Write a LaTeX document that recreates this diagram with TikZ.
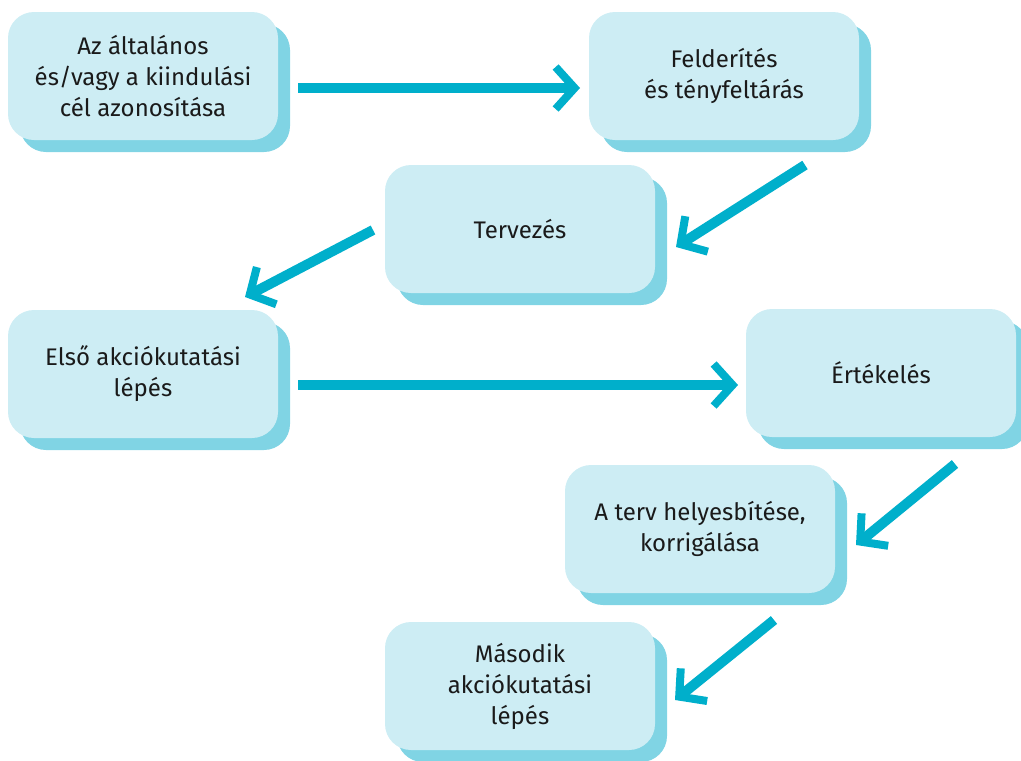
\documentclass[tikz,border=0pt]{standalone}
\usepackage{fontspec}
\setmainfont{Fira Sans}
\usetikzlibrary{arrows.meta,shadows}
\definecolor{boxfill}{HTML}{CDEDF4}
\definecolor{boxshade}{HTML}{80D4E4}
\definecolor{flow}{HTML}{00AFCB}
\definecolor{ink}{HTML}{1A1A1A}
\tikzset{
  stepbox/.style={fill=boxfill, rounded corners=26pt, minimum width=270pt,
    minimum height=128pt, inner sep=0pt, align=center, text=ink,
    font=\fontsize{24pt}{31pt}\selectfont,
    drop shadow={shadow xshift=12pt, shadow yshift=-12pt, fill=boxshade, opacity=1}},
  flowarrow/.style={draw=flow, line width=10pt,
    -{Straight Barb[length=19pt, width=42pt, line width=8pt]}}
}
\begin{document}
\begin{tikzpicture}[x=1pt, y=-1pt]
\useasboundingbox (0,0) rectangle (1021,761);
\node[stepbox] (goal)   at (143,76)  {Az általános\\és/vagy a kiindulási\\cél azonosítása};
\node[stepbox] (survey) at (724,76)  {Felderítés\\és tényfeltárás};
\node[stepbox] (plan)   at (520,229) {Tervezés};
\node[stepbox] (first)  at (143,374) {Első akciókutatási\\lépés};
\node[stepbox] (eval)   at (881,373) {Értékelés};
\node[stepbox] (fix)    at (700,529) {A terv helyesbítése,\\korrigálása};
\node[stepbox] (second) at (520,686) {Második\\akciókutatási\\lépés};

\coordinate (a1s) at (298,88);  \coordinate (a1e) at (580,88);
\coordinate (a2s) at (805,165); \coordinate (a2e) at (676,247);
\coordinate (a3s) at (373,230); \coordinate (a3e) at (245,297);
\coordinate (a4s) at (298,385); \coordinate (a4e) at (738,385);
\coordinate (a5s) at (955,464); \coordinate (a5e) at (856,545);
\coordinate (a6s) at (774,620); \coordinate (a6e) at (675,700);

\draw[flowarrow] (a1s) -- (a1e);
\draw[flowarrow] (a2s) -- (a2e);
\draw[flowarrow] (a3s) -- (a3e);
\draw[flowarrow] (a4s) -- (a4e);
\draw[flowarrow] (a5s) -- (a5e);
\draw[flowarrow] (a6s) -- (a6e);
\end{tikzpicture}
\end{document}
